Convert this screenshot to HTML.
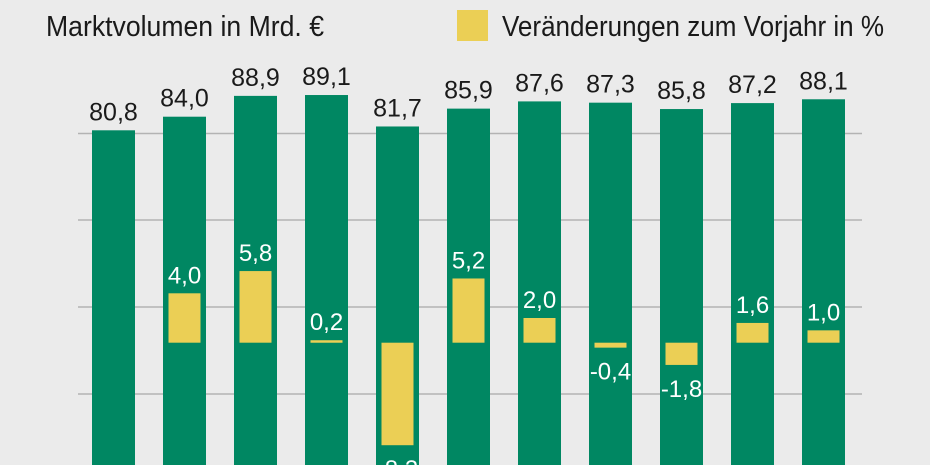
<!DOCTYPE html>
<html><head><meta charset="utf-8"><style>
html,body{margin:0;padding:0;background:#ebebeb;}
svg{display:block;font-family:"Liberation Sans Narrow","Liberation Sans",sans-serif;}
</style></head><body>
<svg id="chart" width="930" height="465" viewBox="0 0 930 465" xmlns="http://www.w3.org/2000/svg">
<rect width="930" height="465" fill="#ebebeb"/>
<text x="46" y="36" font-size="29" fill="#1a1a1a" textLength="278" lengthAdjust="spacingAndGlyphs">Marktvolumen in Mrd. €</text>
<rect x="457" y="10" width="31" height="31" fill="#ebcf55"/>
<text x="502" y="36" font-size="29" fill="#1a1a1a" textLength="382" lengthAdjust="spacingAndGlyphs">Veränderungen zum Vorjahr in %</text>
<g id="grid"></g><g id="bars"></g>
</svg>
<script>
const volumes = [80.8, 84.0, 88.9, 89.1, 81.7, 85.9, 87.6, 87.3, 85.8, 87.2, 88.1];
const changes = [null, 4.0, 5.8, 0.2, -8.3, 5.2, 2.0, -0.4, -1.8, 1.6, 1.0];
const gridLines = [133.5, 220, 307, 394];

const NS = "http://www.w3.org/2000/svg";
const svg = document.getElementById('chart');
const gG = document.getElementById('grid');
const bG = document.getElementById('bars');
function xPos(i){ return 92 + i * 71; }
function yVol(v){ return 130.3 - (v - 80.8) * 4.25; }
function yChg(v){ return 342.7 - v * 12.35; }
function fmt(v){ return v.toFixed(1).replace('.', ','); }
function mk(tag, attrs, parent){ const e=document.createElementNS(NS,tag); for(const k in attrs) e.setAttribute(k,attrs[k]); parent.appendChild(e); return e; }

gridLines.forEach((y) => {
  const l = mk('line', {x1:78, x2:862, y1:y, y2:y, stroke:'#b3b3b3', 'stroke-width':1.5}, gG);
  
  
});

volumes.forEach((v, i) => {
  const x = xPos(i), w = 43, top = yVol(v);
  const r = mk('rect', {x:x, y:top, width:w, height:470-top, fill:'#008762'}, bG);
  
  
  const t = mk('text', {x:x+w/2, y:top-10, 'font-size':25, fill:'#1a1a1a', 'text-anchor':'middle', 'font-family':'Liberation Sans, sans-serif'}, bG);
  t.textContent = fmt(v);
  
  
  const c = changes[i];
  if (c === null) return;
  const y0 = yChg(0), y1 = yChg(c);
  const cr = mk('rect', {x:x+5.5, y:Math.min(y0,y1), width:32, height:Math.max(Math.abs(y1-y0),2.5), fill:'#ebcf55'}, bG);
  
  
  const ly = c >= 0 ? y1 - 10 : Math.max(y1, y0 + 2.5) + 32;
  const ct = mk('text', {x:x+w/2, y:ly, 'font-size':24, fill:'#ffffff', 'text-anchor':'middle', 'font-family':'Liberation Sans, sans-serif'}, bG);
  ct.textContent = fmt(c);
  
  
});
</script>
</body></html>
